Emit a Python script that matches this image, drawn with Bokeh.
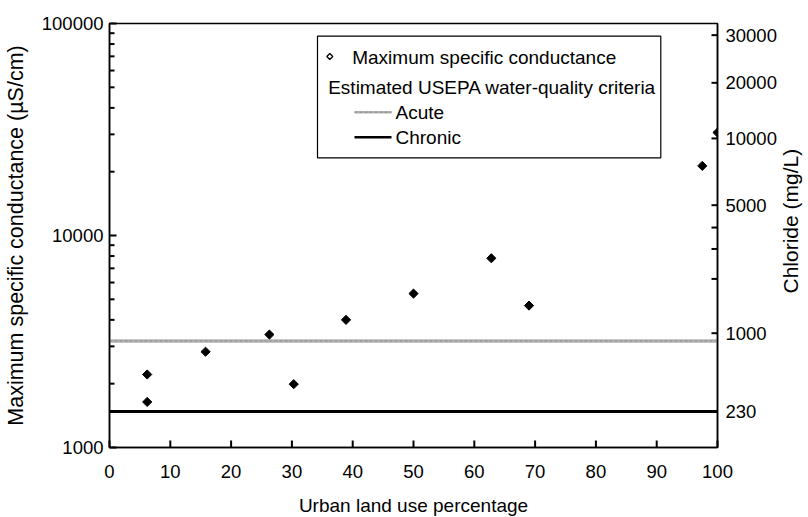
import numpy as np
from bokeh.plotting import figure
from bokeh.models import (LogAxis, LinearAxis, Range1d, FixedTicker, Span, BoxAnnotation,
                          Label, LogScale, LinearScale)
from bokeh.embed import file_html
from bokeh.resources import INLINE

# ---------------- data ----------------
urban_pct = [6.2, 6.2, 15.8, 26.3, 30.3, 38.9, 50.0, 62.8, 69.0, 97.5, 100.0]
max_sc = [2210, 1640, 2830, 3410, 1990, 4000, 5320, 7810, 4670, 21300, 30600]

acute_sc = 3180     # estimated USEPA acute criterion (as conductance)
chronic_sc = 1480   # estimated USEPA chronic criterion (as conductance)

x_ticks = [0, 10, 20, 30, 40, 50, 60, 70, 80, 90, 100]
left_tick_values = [1000, 10000, 100000]
left_tick_labels = ["1000", "10000", "100000"]
left_minor_ticks = [2000, 3000, 4000, 5000, 6000, 7000, 8000, 9000,
                    20000, 30000, 40000, 50000, 60000, 70000, 80000, 90000]

chloride_tick_labels = ["30000", "20000", "10000", "5000", "1000", "230"]
chloride_tick_sc = [88100, 52500, 28700, 13900, 3460, 1480]   # equivalent conductance
chloride_minor_sc = [10900, 8640, 6240]                       # 4000, 3000, 2000 mg/L

x_title = "Urban land use percentage"
y_title = "Maximum specific conductance (µS/cm)"
y2_title = "Chloride (mg/L)"

FONT = "Liberation Sans"

# ---------------- figure ----------------
p = figure(frame_width=608, frame_height=424,
           x_range=Range1d(0, 100), y_range=Range1d(1000, 100000),
           y_axis_type="log", output_backend="svg", toolbar_location=None,
           min_border_left=108, min_border_top=23, min_border_right=92,
           min_border_bottom=70)
p.grid.visible = False
p.outline_line_color = "black"
p.outline_line_width = 1.5
p.background_fill_color = "white"
p.border_fill_color = "white"

# pixel-row range of the frame (top 23 px, bottom 447 px) used to place the right title
p.extra_y_ranges = {"cl": Range1d(1000, 100000), "px": Range1d(447, 23)}
p.extra_y_scales = {"cl": LogScale(), "px": LinearScale()}

xa = p.xaxis[0]
ya = p.yaxis[0]
xa.ticker = FixedTicker(ticks=x_ticks)
xa.axis_label = x_title
ya.ticker = FixedTicker(ticks=left_tick_values, minor_ticks=left_minor_ticks)
ya.major_label_overrides = dict(zip(left_tick_values, left_tick_labels))
ya.axis_label = y_title

ra = LogAxis(y_range_name="cl",
             ticker=FixedTicker(ticks=chloride_tick_sc, minor_ticks=chloride_minor_sc),
             major_label_overrides=dict(zip(chloride_tick_sc, chloride_tick_labels)))
p.add_layout(ra, "right")

# right-hand title drawn as the single label of an extra, line-less axis (reads bottom-to-top)
TITLE_ROW = 293
ta = LinearAxis(y_range_name="px", ticker=FixedTicker(ticks=[TITLE_ROW]),
                major_label_overrides={TITLE_ROW: y2_title},
                major_label_orientation=np.pi / 2)
p.add_layout(ta, "right")

for ax in (xa, ya, ra, ta):
    ax.axis_line_color = "black"
    ax.axis_line_width = 1.5
    ax.major_tick_in = 0
    ax.major_tick_out = 0
    ax.minor_tick_in = 0
    ax.minor_tick_out = 0
    ax.major_label_text_font = FONT
    ax.major_label_text_font_size = "18.5px"
    ax.major_label_text_color = "black"
    ax.axis_label_text_font = FONT
    ax.axis_label_text_font_style = "normal"
    ax.axis_label_text_color = "black"

xa.major_label_standoff = 17
xa.axis_label_text_font_size = "19px"
xa.axis_label_standoff = 14
ya.major_label_standoff = 6
ya.axis_label_text_font_size = "21.5px"
ya.axis_label_standoff = 11
ra.major_label_standoff = 8
ta.axis_line_color = None
ta.major_label_standoff = 11
ta.major_label_text_font_size = "21px"

# ---------------- pixel helpers (positions/lengths measured on the reference) ----------------
FX0, FX1, FY0, FY1 = 108.0, 716.0, 23.0, 447.0


def dx(px):
    return (px - FX0) / (FX1 - FX0) * 100.0


def dy(py):
    return 10 ** (3 + (FY1 - py) / (FY1 - FY0) * 2.0)


def xlen(n):
    return n / (FX1 - FX0) * 100.0


def yfac(n):
    return 10 ** (n / (FY1 - FY0) * 2.0)


# ---------------- inward tick marks ----------------
TICK = dict(line_color="black", line_width=2, level="overlay")
lv = [float(v) for v in left_tick_values]
lm = [float(v) for v in left_minor_ticks]
xt = [float(v) for v in x_ticks]
rv = [float(v) for v in chloride_tick_sc + chloride_minor_sc]
p.segment([0.0] * len(lv), lv, [xlen(7)] * len(lv), lv, **TICK)
p.segment([0.0] * len(lm), lm, [xlen(5)] * len(lm), lm, **TICK)
p.segment(xt, [1000.0] * len(xt), xt, [1000.0 * yfac(7)] * len(xt), **TICK)
p.segment([100.0 - xlen(6)] * len(rv), rv, [100.0] * len(rv), rv, **TICK)

# ---------------- criteria lines ----------------
p.add_layout(Span(location=acute_sc, dimension="width", line_color="#b3b3b3",
                  line_width=3.5, level="underlay"))
p.add_layout(Span(location=acute_sc, dimension="width", line_color="#8c8c8c",
                  line_width=1, line_dash="3 2", level="underlay"))
p.add_layout(Span(location=chronic_sc, dimension="width", line_color="black",
                  line_width=3, level="underlay"))

# ---------------- data points ----------------
p.scatter(urban_pct, max_sc, marker="square", angle=np.pi / 4, size=6.5,
          fill_color="black", line_color="black")

# ---------------- legend ----------------
p.add_layout(BoxAnnotation(left=dx(316), right=dx(659.3), top=dy(35.7), bottom=dy(157.3),
                           fill_color="white", fill_alpha=1.0, line_color="black",
                           line_width=1.2, line_alpha=1.0))

p.scatter([dx(328.3)], [dy(56)], marker="square", angle=np.pi / 4, size=4.2,
          fill_color="white", line_color="black", line_width=1.3, level="overlay")
p.segment([dx(353)], [dy(111.7)], [dx(390)], [dy(111.7)], line_color="#b3b3b3",
          line_width=2.5, level="overlay")
p.segment([dx(353)], [dy(111.7)], [dx(390)], [dy(111.7)], line_color="#8c8c8c",
          line_width=1, line_dash="3 2", level="overlay")
p.segment([dx(353)], [dy(136.7)], [dx(390)], [dy(136.7)], line_color="black",
          line_width=2.5, level="overlay")

legend_texts = [
    (350.7, 56.5, "Maximum specific conductance"),
    (326.7, 87.3, "Estimated USEPA water-quality criteria"),
    (394.0, 112.2, "Acute"),
    (394.0, 137.2, "Chronic"),
]
for px, py, t in legend_texts:
    p.add_layout(Label(x=dx(px), y=dy(py), text=t, text_font=FONT,
                       text_font_size="19px", text_color="black",
                       text_align="left", text_baseline="middle"))

open("out.html", "w").write(file_html(p, INLINE))
